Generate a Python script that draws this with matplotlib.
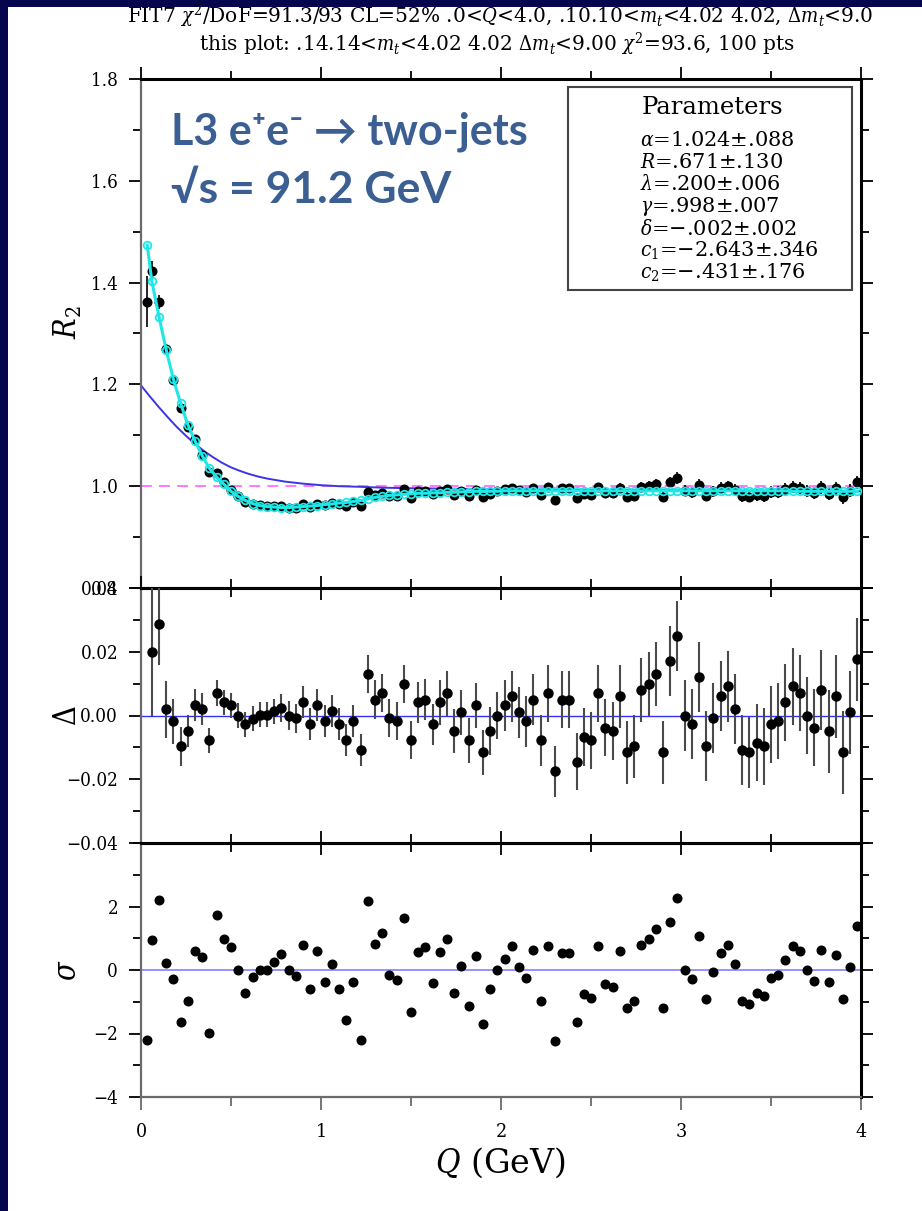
import numpy as np
import matplotlib.pyplot as plt
from matplotlib.patches import Rectangle
from matplotlib.ticker import MultipleLocator, FuncFormatter

plt.rcParams['mathtext.fontset'] = 'dejavuserif'
plt.rcParams['font.family'] = 'DejaVu Serif'
plt.rcParams['font.stretch'] = 'condensed'

# bin centres (GeV)
q = [0.035, 0.06, 0.10, 0.14, 0.18, 0.22, 0.26, 0.30, 0.34, 0.38,
     0.42, 0.46, 0.50, 0.54, 0.58, 0.62, 0.66, 0.70, 0.74, 0.78,
     0.82, 0.86, 0.90, 0.94, 0.98, 1.02, 1.06, 1.10, 1.14, 1.18,
     1.22, 1.26, 1.30, 1.34, 1.38, 1.42, 1.46, 1.50, 1.54, 1.58,
     1.62, 1.66, 1.70, 1.74, 1.78, 1.82, 1.86, 1.90, 1.94, 1.98,
     2.02, 2.06, 2.10, 2.14, 2.18, 2.22, 2.26, 2.30, 2.34, 2.38,
     2.42, 2.46, 2.50, 2.54, 2.58, 2.62, 2.66, 2.70, 2.74, 2.78,
     2.82, 2.86, 2.90, 2.94, 2.98, 3.02, 3.06, 3.10, 3.14, 3.18,
     3.22, 3.26, 3.30, 3.34, 3.38, 3.42, 3.46, 3.50, 3.54, 3.58,
     3.62, 3.66, 3.70, 3.74, 3.78, 3.82, 3.86, 3.90, 3.94, 3.98]

# fit (cyan) evaluated at each bin
r2_fit = [1.473, 1.403, 1.333, 1.268, 1.210, 1.163, 1.121, 1.089, 1.060, 1.035,
          1.018, 1.004, 0.990, 0.980, 0.972, 0.966, 0.962, 0.960, 0.959, 0.958,
          0.958, 0.959, 0.960, 0.961, 0.962, 0.964, 0.965, 0.967, 0.968, 0.970,
          0.972, 0.975, 0.978, 0.980, 0.982, 0.983, 0.984, 0.985, 0.986, 0.986,
          0.987, 0.987, 0.988, 0.988, 0.989, 0.989, 0.990, 0.990, 0.990, 0.990,
          0.991, 0.991, 0.991, 0.991, 0.991, 0.991, 0.991, 0.991, 0.991, 0.991,
          0.991, 0.991, 0.991, 0.991, 0.991, 0.991, 0.991, 0.991, 0.991, 0.991,
          0.991, 0.991, 0.991, 0.991, 0.991, 0.991, 0.991, 0.991, 0.991, 0.991,
          0.991, 0.991, 0.991, 0.991, 0.991, 0.991, 0.991, 0.991, 0.991, 0.991,
          0.990, 0.990, 0.990, 0.990, 0.990, 0.990, 0.990, 0.990, 0.990, 0.990]

# data - fit
delta = [-0.111, 0.0200, 0.0288, 0.0019, -0.0018, -0.0097, -0.0049, 0.0032, 0.0021, -0.0078,
         0.0070, 0.0041, 0.0032, 0.0000, -0.0028, -0.0010, 0.0003, 0.0003, 0.0013, 0.0024,
         0.0000, -0.0009, 0.0041, -0.0028, 0.0032, -0.0018, 0.0013, -0.0028, -0.0078, -0.0018,
         -0.0108, 0.0131, 0.0050, 0.0070, -0.0007, -0.0018, 0.0100, -0.0078, 0.0041, 0.0050,
         -0.0028, 0.0041, 0.0070, -0.0049, 0.0010, -0.0078, 0.0032, -0.0116, -0.0049, 0.0000,
         0.0032, 0.0060, 0.0010, -0.0018, 0.0050, -0.0078, 0.0070, -0.0175, 0.0050, 0.0050,
         -0.0145, -0.0067, -0.0078, 0.0070, -0.0038, -0.0049, 0.0060, -0.0116, -0.0097, 0.0081,
         0.0100, 0.0130, -0.0116, 0.0170, 0.0250, 0.0000, -0.0028, 0.0120, -0.0097, -0.0009,
         0.0060, 0.0091, 0.0021, -0.0108, -0.0116, -0.0085, -0.0097, -0.0028, -0.0018, 0.0041,
         0.0091, 0.0070, 0.0000, -0.0038, 0.0081, -0.0049, 0.0060, -0.0116, 0.0010, 0.0177]

delta_err = [0.050, 0.020, 0.013, 0.009, 0.007, 0.006, 0.005, 0.005, 0.005, 0.004,
             0.004, 0.004, 0.004, 0.004, 0.004, 0.004, 0.004, 0.004, 0.004, 0.0045,
             0.0045, 0.0045, 0.005, 0.005, 0.005, 0.005, 0.005, 0.005, 0.005, 0.005,
             0.005, 0.006, 0.006, 0.006, 0.006, 0.006, 0.006, 0.006, 0.0065, 0.0065,
             0.0065, 0.007, 0.007, 0.007, 0.007, 0.007, 0.007, 0.007, 0.0075, 0.0075,
             0.008, 0.008, 0.008, 0.008, 0.008, 0.008, 0.009, 0.008, 0.009, 0.009,
             0.009, 0.009, 0.009, 0.009, 0.009, 0.009, 0.010, 0.010, 0.010, 0.010,
             0.010, 0.010, 0.010, 0.011, 0.011, 0.011, 0.011, 0.011, 0.011, 0.011,
             0.011, 0.011, 0.011, 0.011, 0.011, 0.012, 0.012, 0.012, 0.012, 0.012,
             0.012, 0.012, 0.012, 0.012, 0.0125, 0.013, 0.013, 0.013, 0.013, 0.013]

sigma = [-2.19, 0.94, 2.22, 0.23, -0.29, -1.65, -0.99, 0.60, 0.40, -1.98,
         1.73, 0.98, 0.74, 0.00, -0.73, -0.23, 0.00, 0.00, 0.24, 0.49,
         0.00, -0.19, 0.80, -0.59, 0.60, -0.39, 0.20, -0.59, -1.58, -0.39,
         -2.19, 2.16, 0.82, 1.17, -0.16, -0.33, 1.65, -1.33, 0.56, 0.71,
         -0.42, 0.57, 0.99, -0.71, 0.14, -1.13, 0.43, -1.70, -0.61, 0.00,
         0.36, 0.75, 0.10, -0.24, 0.62, -0.99, 0.76, -2.23, 0.54, 0.54,
         -1.65, -0.76, -0.89, 0.76, -0.44, -0.54, 0.60, -1.20, -0.99, 0.80,
         0.98, 1.30, -1.20, 1.52, 2.26, 0.00, -0.27, 1.07, -0.92, -0.07,
         0.52, 0.80, 0.18, -0.99, -1.08, -0.72, -0.83, -0.26, -0.17, 0.33,
         0.75, 0.59, 0.00, -0.34, 0.62, -0.39, 0.46, -0.92, 0.08, 1.38]

# blue curve (fit without the oscillating term)
curve_q = [0.0, 0.05, 0.1, 0.15, 0.2, 0.25, 0.3, 0.35, 0.4, 0.45, 0.5, 0.55, 0.6, 0.65,
           0.7, 0.75, 0.8, 0.9, 1.0, 1.1, 1.2, 1.35, 1.5, 1.75, 2.0, 2.5, 3.0, 3.5, 4.0]
curve_r2 = [1.198, 1.176, 1.155, 1.135, 1.116, 1.099, 1.083, 1.069, 1.057, 1.046, 1.037, 1.030,
            1.024, 1.019, 1.015, 1.012, 1.009, 1.005, 1.002, 1.000, 0.999, 0.997, 0.996,
            0.995, 0.994, 0.993, 0.992, 0.991, 0.990]

params = [(r'$\alpha$', '1.024\u00b1.088'), (r'$R$', '.671\u00b1.130'),
          (r'$\lambda$', '.200\u00b1.006'), (r'$\gamma$', '.998\u00b1.007'),
          (r'$\delta$', '\u2212.002\u00b1.002'), (r'$c_1$', '\u22122.643\u00b1.346'),
          (r'$c_2$', '\u2212.431\u00b1.176')]

r2_data = np.array(r2_fit) + np.array(delta)

W, H = 922, 1211
fig = plt.figure(figsize=(W / 100, H / 100), dpi=100)
fig.patch.set_facecolor('#06064e')
fig.add_artist(Rectangle((8 / W, 0), 1, 1 - 7 / H, transform=fig.transFigure,
                         facecolor='white', edgecolor='none', zorder=-10))


def fx(x):
    return x / W


def fy(y):
    return 1 - y / H


def panel(top, bottom):
    return fig.add_axes([fx(141), fy(bottom), (861 - 141) / W, (bottom - top) / H])


ax1 = panel(79, 588)
ax2 = panel(588, 843)
ax3 = panel(843, 1097)

grey = '#6a6a6a'
minus = FuncFormatter(lambda v, p: ('%.2f' % v).replace('-', '\u2212'))
for ax in (ax1, ax2, ax3):
    ax.set_xlim(0, 4)
    ax.set_facecolor('none')
    ax.xaxis.set_major_locator(MultipleLocator(1))
    ax.xaxis.set_minor_locator(MultipleLocator(0.5))
    ax.spines['left'].set_color(grey)
    ax.spines['left'].set_linewidth(1.6)
    ax.spines['right'].set_linewidth(2.2)
    ax.spines['top'].set_linewidth(2.2)
    ax.spines['bottom'].set_linewidth(2.2)
    ax.tick_params(axis='y', which='both', left=True, right=True, direction='out',
                   labelsize=13.5, pad=8, width=1.3)
    ax.tick_params(axis='y', which='major', length=8.5)
    ax.tick_params(axis='y', which='minor', length=6)

# top panel: R2
ax1.set_ylim(0.8, 1.8)
ax1.yaxis.set_major_locator(MultipleLocator(0.2))
ax1.yaxis.set_minor_locator(MultipleLocator(0.1))
ax1.yaxis.set_major_formatter(FuncFormatter(lambda v, p: '%.1f' % v))
ax1.tick_params(axis='x', which='both', top=True, bottom=False, labelbottom=False,
                direction='out', width=1.3)
ax1.tick_params(axis='x', which='major', length=9)
ax1.tick_params(axis='x', which='minor', length=5.5)
ax1.axhline(1.0, color='#ff6cff', lw=1.3, ls=(0, (6, 4)), zorder=1)
ax1.plot(curve_q, curve_r2, color='#3b35e6', lw=1.4, zorder=2)
ax1.errorbar(q, r2_data, yerr=delta_err, fmt='o', color='black', ms=6.2,
             elinewidth=1.2, capsize=0, zorder=3)
ax1.plot(q, r2_fit, '-', color='#20e6e6', lw=2.2, zorder=4)
ax1.plot(q, r2_fit, 'o', mfc='none', mec='#20e6e6', ms=5.5, mew=1.3, zorder=5)

# middle panel: Delta
ax2.set_ylim(-0.04, 0.04)
ax2.yaxis.set_major_locator(MultipleLocator(0.02))
ax2.yaxis.set_minor_locator(MultipleLocator(0.01))
ax2.yaxis.set_major_formatter(minus)
ax2.tick_params(axis='x', which='both', top=True, bottom=True, labelbottom=False,
                direction='inout', width=1.3)
ax2.tick_params(axis='x', which='major', length=17)
ax2.tick_params(axis='x', which='minor', length=13)
ax2.axhline(0, color='#3030ff', lw=1.0, zorder=1)
ax2.errorbar(q, delta, yerr=delta_err, fmt='o', color='black', ecolor='#4a4a4a',
             ms=6.5, elinewidth=1.5, capsize=0, zorder=3)

# bottom panel: sigma
ax3.set_ylim(-4, 4)
ax3.set_yticks([-4, -2, 0, 2])
ax3.yaxis.set_minor_locator(MultipleLocator(1))
ax3.yaxis.set_major_formatter(FuncFormatter(lambda v, p: ('%d' % v).replace('-', '\u2212')))
ax3.tick_params(axis='x', which='both', top=False, bottom=True, direction='out',
                labelsize=14, pad=10, width=1.3, color=grey)
ax3.tick_params(axis='x', which='major', length=9)
ax3.tick_params(axis='x', which='minor', length=6.5)
ax3.spines['bottom'].set_color(grey)
ax3.spines['bottom'].set_linewidth(1.6)
ax3.axhline(0, color='#8a8aff', lw=1.3, zorder=1)
ax3.plot(q, sigma, 'o', color='black', ms=6.2, zorder=3)

# axis titles
fig.text(fx(501), fy(1163), r'$Q$ (GeV)', ha='center', va='center', fontsize=24,
         fontstretch='normal')
fig.text(fx(68), fy(322), r'$R_2$', ha='center', va='center', fontsize=22, rotation=90)
fig.text(fx(68), fy(716), r'$\Delta$', ha='center', va='center', fontsize=22, rotation=90)
fig.text(fx(68), fy(970), r'$\sigma$', ha='center', va='center', fontsize=22, rotation=90)

# header
fig.text(fx(500), fy(16),
         r'FIT7 $\chi^2$/DoF=91.3/93 CL=52% .0<$Q$<4.0, .10.10<$m_t$<4.02 4.02, $\Delta m_t$<9.0',
         ha='center', va='center', fontsize=14.5, fontstretch='normal')
fig.text(fx(497), fy(44),
         r'this plot: .14.14<$m_t$<4.02 4.02 $\Delta m_t$<9.00 $\chi^2$=93.6, 100 pts',
         ha='center', va='center', fontsize=14.5, fontstretch='normal')

# parameter box
fig.add_artist(Rectangle((fx(568), fy(290)), (852 - 568) / W, (290 - 87) / H,
                         transform=fig.transFigure, facecolor='white',
                         edgecolor='#444444', lw=1.5, zorder=5))
fig.text(fx(712), fy(107), 'Parameters', ha='center', va='center', fontsize=17.5,
         fontstretch='normal', zorder=6)
for i, (sym, val) in enumerate(params):
    fig.text(fx(640), fy(140 + 22.2 * i), sym + '=' + val, ha='left', va='center',
             fontsize=15, fontstretch='normal', zorder=6)

# slide annotation
blue_txt = '#3b5f93'
fig.text(fx(171), fy(132), 'L3 e\u207ae\u207b \u2192 two-jets', ha='left', va='center',
         fontsize=31, fontweight='bold', fontstretch='normal', color=blue_txt,
         family=['Lato', 'DejaVu Sans'])
fig.text(fx(171), fy(190), '\u221as = 91.2 GeV', ha='left', va='center',
         fontsize=32, fontweight='bold', fontstretch='normal', color=blue_txt,
         family=['Lato', 'DejaVu Sans'])

fig.savefig('out.png', dpi=100, facecolor=fig.get_facecolor())
